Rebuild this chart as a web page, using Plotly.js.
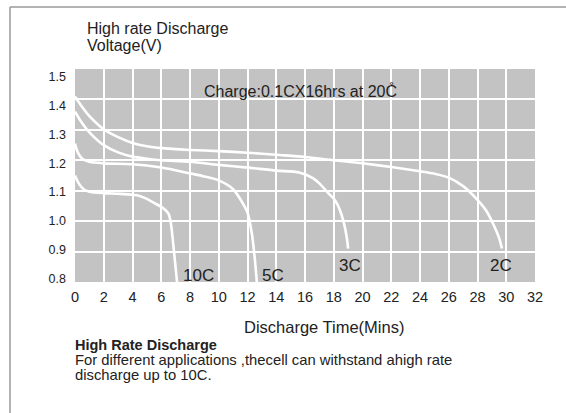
<!DOCTYPE html>
<html>
<head>
<meta charset="utf-8">
<script src="https://cdn.plot.ly/plotly-3.0.1.min.js"></script>
<style>
html,body{margin:0;padding:0;background:#fff;}
#chart{width:566px;height:413px;}
</style>
</head>
<body>
<div id="chart"></div>
<script>
// ---- data ----
const t10C = [0, 0.25, 0.6, 1, 2, 3, 4, 4.5, 5, 5.5, 6, 6.3, 6.5, 6.65, 6.8, 6.95, 7.1];
const v10C = [1.15, 1.125, 1.105, 1.097, 1.092, 1.09, 1.087, 1.083, 1.073, 1.06, 1.047, 1.036, 1.025, 1.0, 0.94, 0.87, 0.80];

const t5C = [0, 0.2, 0.5, 1, 2, 4, 6, 8, 9, 10, 11, 11.5, 12, 12.3, 12.5, 12.65];
const v5C = [1.255, 1.225, 1.205, 1.195, 1.19, 1.187, 1.176, 1.157, 1.147, 1.134, 1.105, 1.072, 1.028, 0.96, 0.88, 0.80];

const t3C = [0, 0.5, 1, 2, 3, 4, 5, 6, 8, 10, 12, 14, 15.6, 16.6, 17, 17.7, 18.1, 18.4, 18.7, 18.9, 19.0];
const v3C = [1.36, 1.322, 1.292, 1.25, 1.226, 1.212, 1.205, 1.2, 1.195, 1.185, 1.176, 1.166, 1.16, 1.14, 1.124, 1.088, 1.068, 1.04, 0.995, 0.948, 0.91];

const t2C = [0, 0.5, 1, 2, 3, 4, 5, 6, 8, 10, 12, 14, 16, 18, 20, 22, 24, 25, 26, 27, 28, 28.6, 29.1, 29.5, 29.7];
const v2C = [1.41, 1.375, 1.345, 1.302, 1.276, 1.257, 1.246, 1.24, 1.234, 1.23, 1.225, 1.218, 1.211, 1.2, 1.19, 1.178, 1.164, 1.156, 1.143, 1.115, 1.07, 1.035, 0.99, 0.945, 0.91];

const seriesNames = ["10C", "5C", "3C", "2C"];
const labelX = [8.6, 13.8, 19.1, 29.6];
const labelY = [0.823, 0.823, 0.855, 0.855];

const xTickVals = [0, 2, 4, 6, 8, 10, 12, 14, 16, 18, 20, 22, 24, 26, 28, 30, 32];
const yTickVals = [0.8, 0.9, 1.0, 1.1, 1.2, 1.3, 1.4, 1.5];
const yTickText = ["0.8", "0.9", "1.0", "1.1", "1.2", "1.3", "1.4", "1.5"];

const titleLine1 = "High rate Discharge";
const titleLine2 = "Voltage(V)";
const chargeNote = "Charge:0.1CX16hrs at 20C\u030A";
const xTitle = "Discharge Time(Mins)";
const footHead = "High Rate Discharge";
const footLine1 = "For different applications ,thecell can withstand ahigh rate";
const footLine2 = "discharge up to 10C.";

// ---- build ----
const FONT = "Liberation Sans, Arial, Helvetica, sans-serif";
const TXT = "#222222";
const xs = [t10C, t5C, t3C, t2C];
const ys = [v10C, v5C, v3C, v2C];

const traces = xs.map((x, i) => ({
  x: x, y: ys[i], name: seriesNames[i], type: "scatter", mode: "lines",
  line: {color: "#ffffff", width: 2.6, shape: "spline", smoothing: 0.8},
  hoverinfo: "skip", showlegend: false
}));

const annotations = seriesNames.map((n, i) => ({
  x: labelX[i], y: labelY[i], xref: "x", yref: "y", text: n, showarrow: false,
  font: {family: FONT, size: 17, color: TXT}, xanchor: "center", yanchor: "middle"
}));
annotations.push(
  {x: 15.7, y: 1.428, xref: "x", yref: "y", text: chargeNote, showarrow: false,
   font: {family: FONT, size: 16, color: TXT}, xanchor: "center", yanchor: "middle"},
  {x: 0.022, y: 1.19, xref: "paper", yref: "paper", text: titleLine1, showarrow: false,
   font: {family: FONT, size: 16, color: TXT}, xanchor: "left", yanchor: "middle"},
  {x: 0.022, y: 1.108, xref: "paper", yref: "paper", text: titleLine2, showarrow: false,
   font: {family: FONT, size: 16, color: TXT}, xanchor: "left", yanchor: "middle"},
  {x: 0.541, y: -0.211, xref: "paper", yref: "paper", text: xTitle, showarrow: false,
   font: {family: FONT, size: 16.5, color: TXT}, xanchor: "center", yanchor: "middle"},
  {x: -0.004, y: -0.296, xref: "paper", yref: "paper", text: "<b>" + footHead + "</b>", showarrow: false,
   font: {family: FONT, size: 14.5, color: TXT}, xanchor: "left", yanchor: "middle"},
  {x: -0.004, y: -0.366, xref: "paper", yref: "paper", text: footLine1, showarrow: false,
   font: {family: FONT, size: 14.8, color: TXT}, xanchor: "left", yanchor: "middle"},
  {x: -0.004, y: -0.437, xref: "paper", yref: "paper", text: footLine2, showarrow: false,
   font: {family: FONT, size: 14.8, color: TXT}, xanchor: "left", yanchor: "middle"}
);

const layout = {
  width: 566, height: 413,
  margin: {l: 75, r: 31, t: 69, b: 131, pad: 0},
  paper_bgcolor: "#ffffff", plot_bgcolor: "#c3c3c3",
  font: {family: FONT, color: TXT},
  xaxis: {
    range: [0, 32], tickvals: xTickVals, ticks: "", showline: false, zeroline: false,
    showgrid: true, gridcolor: "#ffffff", gridwidth: 2,
    tickfont: {family: FONT, size: 14.5, color: TXT}, ticklabelstandoff: 4, fixedrange: true
  },
  yaxis: {
    range: [0.8, 1.5], tickvals: yTickVals, showticklabels: false, ticks: "",
    showline: false, zeroline: false, showgrid: true, gridcolor: "#ffffff", gridwidth: 2, fixedrange: true
  },
  yaxis2: {
    overlaying: "y", side: "left", anchor: "x", range: [0.787, 1.5275],
    tickvals: yTickVals, ticktext: yTickText, ticks: "", showgrid: false, zeroline: false, showline: false,
    tickfont: {family: FONT, size: 12.5, color: TXT}, ticklabelstandoff: 8, fixedrange: true
  },
  annotations: annotations,
  shapes: [
    {type: "line", xref: "paper", yref: "paper", x0: -0.1413, x1: 1.07, y0: 1.291, y1: 1.291,
     line: {color: "#9a9a9a", width: 1.5}},
    {type: "line", xref: "paper", yref: "paper", x0: -0.1413, x1: -0.1413, y0: 1.291, y1: -0.62,
     line: {color: "#9a9a9a", width: 1.5}}
  ],
  showlegend: false
};

// an empty helper trace so the label axis is laid out
traces.push({x: [null], y: [null], yaxis: "y2", type: "scatter", mode: "lines", hoverinfo: "skip", showlegend: false});

Plotly.newPlot("chart", traces, layout, {displayModeBar: false, staticPlot: true});
</script>
</body>
</html>
